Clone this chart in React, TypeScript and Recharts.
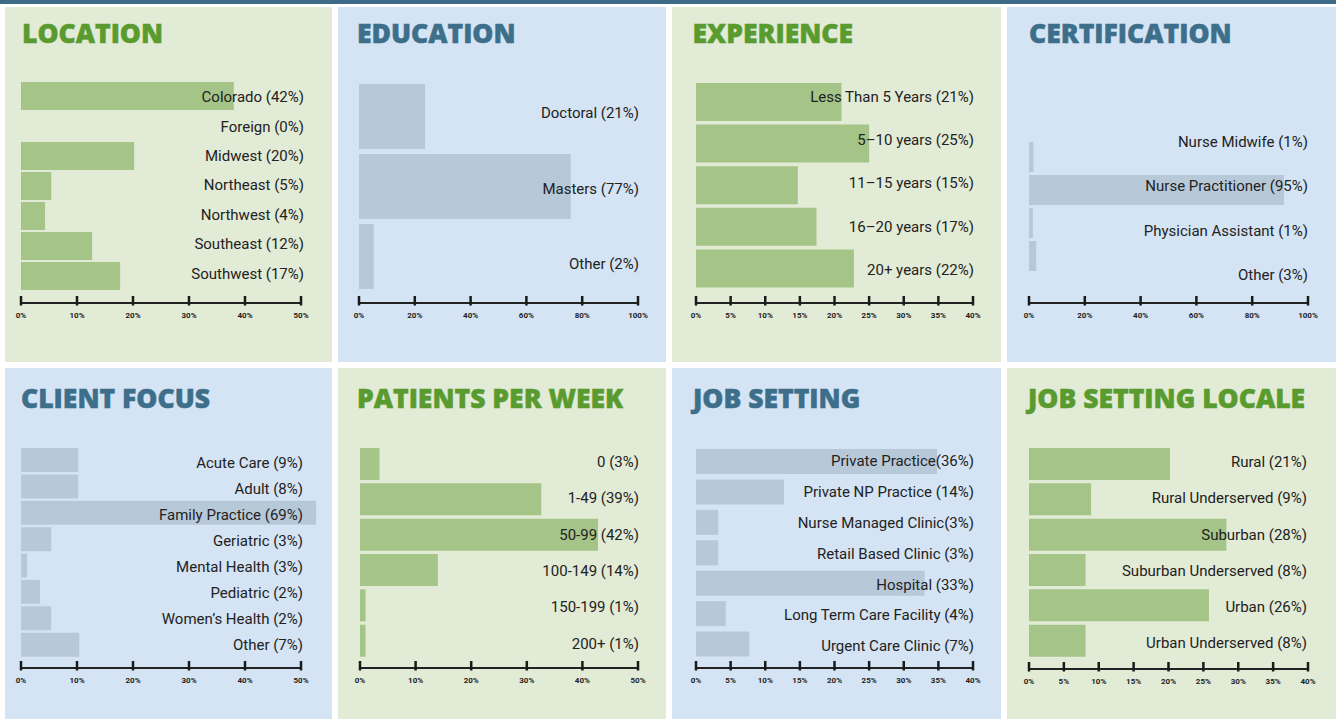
import React from "react"
import { BarChart, Bar, XAxis, YAxis } from "recharts"

// ---- data ----
const locationLabels = ["Colorado (42%)", "Foreign (0%)", "Midwest (20%)", "Northeast (5%)", "Northwest (4%)", "Southeast (12%)", "Southwest (17%)"]
const locationValues = [38, 0, 20.2, 5.4, 4.3, 12.7, 17.7]
const locationTicks = [0, 10, 20, 30, 40, 50]

const educationLabels = ["Doctoral (21%)", "Masters (77%)", "Other (2%)"]
const educationValues = [23.7, 75.9, 5.3]
const educationTicks = [0, 20, 40, 60, 80, 100]

const experienceLabels = ["Less Than 5 Years (21%)", "5–10 years (25%)", "11–15 years (15%)", "16–20 years (17%)", "20+ years (22%)"]
const experienceValues = [21.0, 25.0, 14.7, 17.4, 22.8]
const experienceTicks = [0, 5, 10, 15, 20, 25, 30, 35, 40]

const certificationLabels = ["Nurse Midwife (1%)", "Nurse Practitioner (95%)", "Physician Assistant (1%)", "Other (3%)"]
const certificationValues = [1.6, 91.4, 1.4, 2.6]
const certificationTicks = [0, 20, 40, 60, 80, 100]

const clientLabels = ["Acute Care (9%)", "Adult (8%)", "Family Practice (69%)", "Geriatric (3%)", "Mental Health (3%)", "Pediatric (2%)", "Women’s Health (2%)", "Other (7%)"]
const clientValues = [10.2, 10.2, 52.7, 5.4, 1.1, 3.4, 5.4, 10.4]
const clientTicks = [0, 10, 20, 30, 40, 50]

const patientLabels = ["0 (3%)", "1-49 (39%)", "50-99 (42%)", "100-149 (14%)", "150-199 (1%)", "200+ (1%)"]
const patientValues = [3.5, 32.6, 42.8, 14.0, 1.0, 1.0]
const patientTicks = [0, 10, 20, 30, 40, 50]

const jobLabels = ["Private Practice(36%)", "Private NP Practice (14%)", "Nurse Managed Clinic(3%)", "Retail Based Clinic (3%)", "Hospital (33%)", "Long Term Care Facility (4%)", "Urgent Care Clinic (7%)"]
const jobValues = [34.8, 12.7, 3.2, 3.2, 33.0, 4.3, 7.7]
const jobTicks = [0, 5, 10, 15, 20, 25, 30, 35, 40]

const localeLabels = ["Rural (21%)", "Rural Underserved (9%)", "Suburban (28%)", "Suburban Underserved (8%)", "Urban (26%)", "Urban Underserved (8%)"]
const localeValues = [20.2, 8.9, 28.3, 8.1, 25.8, 8.1]
const localeTicks = [0, 5, 10, 15, 20, 25, 30, 35, 40]

const themes = {
  green: { bg: "#e2ebd6", bar: "#a5c488", title: "#5a9b2f" },
  blue: { bg: "#d4e4f4", bar: "#b7c9d9", title: "#3d6e8a" },
}

type Panel = {
  title: string
  theme: "green" | "blue"
  x: number
  y: number
  w: number
  h: number
  labels: string[]
  values: number[]
  ticks: number[]
  left: number
  right: number
  top: number
  axisY: number
  barPad: [number, number]
  labelPad: [number, number]
  barSize: number
  labelRight: number
  titleX: number
  titleTop: number
  overflow?: boolean
}

const AxisTick = (props: any) => {
  const { x, y, payload } = props
  return (
    <g>
      <line x1={x} x2={x} y1={y - 7} y2={y + 2.5} stroke="#1a1a1a" strokeWidth={2.5} />
      <text x={x} y={y + 14.5} textAnchor="middle" fontSize={8} fontWeight={700} fontFamily="Roboto" fill="#222">
        {`${payload.value}%`}
      </text>
    </g>
  )
}

function ChartPanel({ p }: { p: Panel }) {
  const t = themes[p.theme]
  const data = p.labels.map((label, i) => ({ label, value: p.values[i] }))
  const max = p.ticks[p.ticks.length - 1]
  return (
    <div
      className={p.overflow ? "overflow-bars" : undefined}
      style={{ position: "absolute", left: p.x, top: p.y, width: p.w, height: p.h, background: t.bg }}
    >
      <div
        style={{
          position: "absolute", left: p.titleX, top: p.titleTop, fontFamily: "'Open Sans', sans-serif",
          fontWeight: 800, fontSize: 26.5, lineHeight: "26.5px", color: t.title, whiteSpace: "nowrap",
          WebkitTextStroke: `0.5px ${t.title}`,
        }}
      >
        {p.title}
      </div>
      <div style={{ position: "absolute", left: 0, top: 0 }}>
        <BarChart
          layout="vertical"
          width={p.w}
          height={p.h}
          data={data}
          margin={{ top: p.top, left: p.left, right: p.w - p.right, bottom: p.h - p.axisY - 20 }}
        >
          <XAxis
            type="number"
            domain={[0, max]}
            ticks={p.ticks}
            interval={0}
            allowDataOverflow
            height={20}
            tickSize={0}
            tickMargin={0}
            tickLine={false}
            axisLine={{ stroke: "#222", strokeWidth: 2 }}
            tick={AxisTick}
          />
          <YAxis yAxisId="bars" type="category" dataKey="label" hide padding={{ top: p.barPad[0], bottom: p.barPad[1] }} />
          <Bar dataKey="value" yAxisId="bars" fill={t.bar} barSize={p.barSize} isAnimationActive={false} />
          <YAxis
            yAxisId="labels"
            type="category"
            dataKey="label"
            orientation="right"
            mirror
            interval={0}
            axisLine={false}
            tickLine={false}
            padding={{ top: p.labelPad[0], bottom: p.labelPad[1] }}
            tick={(props: any) => (
              <text
                x={p.labelRight}
                y={props.y}
                dy="0.36em"
                textAnchor="end"
                fontFamily="Roboto"
                fontSize={15}
                fill="#222"
              >
                {props.payload.value}
              </text>
            )}
          />
        </BarChart>
      </div>
    </div>
  )
}

const TOP = 7
const BOT = 368
const TOP_H = 355
const BOT_H = 351

const panels: Panel[] = [
  { title: "LOCATION", theme: "green", x: 5, y: TOP, w: 327, h: TOP_H, labels: locationLabels, values: locationValues, ticks: locationTicks,
    left: 16, right: 296, top: 74, axisY: 296, barPad: [0, 12], labelPad: [1, 15], barSize: 28, labelRight: 299, titleX: 17, titleTop: 12.5 },
  { title: "EDUCATION", theme: "blue", x: 338, y: TOP, w: 328, h: TOP_H, labels: educationLabels, values: educationValues, ticks: educationTicks,
    left: 21, right: 300, top: 68, axisY: 296, barPad: [6, 12], labelPad: [0, 1.5], barSize: 65, labelRight: 301, titleX: 19, titleTop: 12.5 },
  { title: "EXPERIENCE", theme: "green", x: 672, y: TOP, w: 329, h: TOP_H, labels: experienceLabels, values: experienceValues, ticks: experienceTicks,
    left: 24, right: 301, top: 68, axisY: 296, barPad: [6, 14], labelPad: [0, 12], barSize: 38, labelRight: 302, titleX: 20.5, titleTop: 12.5 },
  { title: "CERTIFICATION", theme: "blue", x: 1007, y: TOP, w: 329, h: TOP_H, labels: certificationLabels, values: certificationValues, ticks: certificationTicks,
    left: 22, right: 301, top: 112.5, axisY: 296, barPad: [20.5, 31], labelPad: [0, 6], barSize: 30, labelRight: 301, titleX: 22, titleTop: 12.5 },
  { title: "CLIENT FOCUS", theme: "blue", x: 5, y: BOT, w: 327, h: BOT_H, labels: clientLabels, values: clientValues, ticks: clientTicks,
    left: 16, right: 296, top: 79, axisY: 300, barPad: [0, 10], labelPad: [2.7, 10], barSize: 24, labelRight: 298, titleX: 16, titleTop: 16.8, overflow: true },
  { title: "PATIENTS PER WEEK", theme: "green", x: 338, y: BOT, w: 328, h: BOT_H, labels: patientLabels, values: patientValues, ticks: patientTicks,
    left: 22, right: 300, top: 75.5, axisY: 300, barPad: [2.5, 10], labelPad: [0, 6.5], barSize: 32, labelRight: 301, titleX: 19, titleTop: 16.8 },
  { title: "JOB SETTING", theme: "blue", x: 672, y: BOT, w: 329, h: BOT_H, labels: jobLabels, values: jobValues, ticks: jobTicks,
    left: 24, right: 301, top: 77.3, axisY: 300, barPad: [0.7, 9], labelPad: [0, 6.6], barSize: 25, labelRight: 302, titleX: 21, titleTop: 16.8 },
  { title: "JOB SETTING LOCALE", theme: "green", x: 1007, y: BOT, w: 329, h: BOT_H, labels: localeLabels, values: localeValues, ticks: localeTicks,
    left: 22, right: 301, top: 75.6, axisY: 301, barPad: [2.4, 11], labelPad: [0, 8.2], barSize: 32, labelRight: 300, titleX: 21, titleTop: 16.8 },
]

export default function App() {
  return (
    <div style={{ position: "absolute", left: 0, top: 0, width: 1336, height: 719, background: "#fff", overflow: "hidden" }}>
      <style>{`.overflow-bars [clip-path]{clip-path:none !important}`}</style>
      <div style={{ position: "absolute", left: 0, top: 0, width: 1336, height: 4, background: "#3d6a86" }} />
      {panels.map((p) => (
        <ChartPanel key={p.title} p={p} />
      ))}
    </div>
  )
}
